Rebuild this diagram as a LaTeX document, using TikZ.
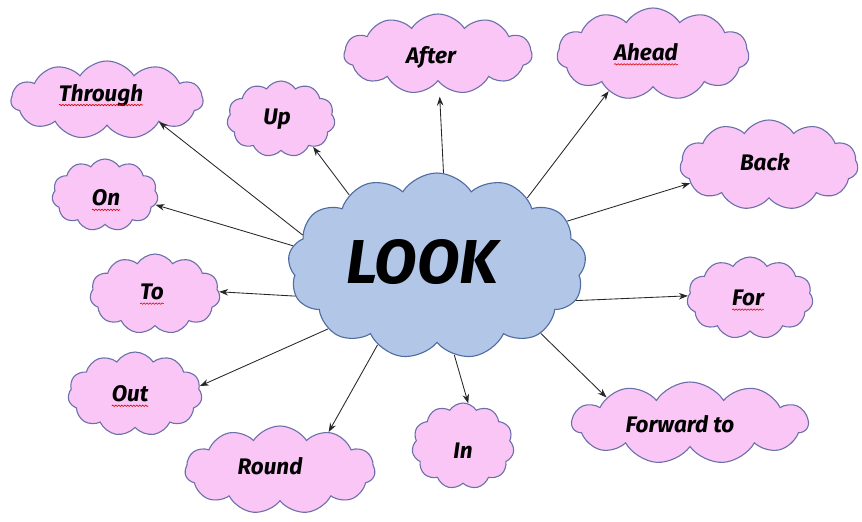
\documentclass[tikz,border=0pt]{standalone}
\usepackage{fontspec}
\setmainfont{Fira Sans}
\usetikzlibrary{shapes.symbols,arrows.meta,decorations.pathmorphing}
\definecolor{pinkfill}{RGB}{249,198,245}
\definecolor{pinkline}{RGB}{108,112,170}
\definecolor{bluefill}{RGB}{178,198,232}
\definecolor{blueline}{RGB}{78,108,160}
\newcommand{\lblfont}{\bfseries\itshape\fontsize{22.5}{22.5}\selectfont}
\newlength{\towd}
\begin{document}
\begin{tikzpicture}[x=1pt,y=-1pt,
  cl/.style={cloud, cloud puffs=11, cloud puff arc=115, cloud ignores aspect,
    draw=pinkline, fill=pinkfill, line width=1.1pt, inner sep=0pt},
  bigcl/.style={cl, cloud puffs=13, draw=blueline, fill=bluefill},
  lbl/.style={inner sep=0pt, outer sep=0pt, font=\lblfont, text=black},
  arr/.style={-{Stealth[length=9pt,width=6.5pt]}, line width=0.85pt, black!85},
  squig/.style={red!85!black, line width=0.6pt, decorate,
    decoration={snake, amplitude=0.7pt, segment length=3pt}}]
\useasboundingbox[fill=white] (0,0) rectangle (862,522);
\settowidth{\towd}{\lblfont to}

% clouds
\node[cl, minimum width=192pt, minimum height=78pt] (through) at (107,100) {};
\node[cl, minimum width=108pt, minimum height=76pt] (up) at (281,119) {};
\node[cl, minimum width=188pt, minimum height=80pt] (after) at (438,54) {};
\node[cl, minimum width=192pt, minimum height=92pt] (ahead) at (653,54) {};
\node[cl, minimum width=178pt, minimum height=90pt] (back) at (769,165) {};
\node[cl, minimum width=106pt, minimum height=72pt] (on) at (105,195) {};
\node[cl, minimum width=130pt, minimum height=80pt] (to) at (155,294) {};
\node[cl, minimum width=134pt, minimum height=84pt] (out) at (135,394) {};
\node[cl, minimum width=190pt, minimum height=88pt] (round) at (280,470) {};
\node[cl, minimum width=102pt, minimum height=86pt] (in) at (463,446) {};
\node[cl, minimum width=236pt, minimum height=82pt] (fwd) at (690,423) {};
\node[cl, minimum width=126pt, minimum height=82pt] (for) at (750,298) {};
\node[bigcl, minimum width=298pt, minimum height=186pt] (look) at (437,266) {};

% labels
\node[lbl] (tthrough) at (101,95) {Through};
\node[lbl] (tup) at (277,119) {Up};
\node[lbl] (tafter) at (431,57) {After};
\node[lbl] (tahead) at (646,52) {Ahead};
\node[lbl] (tback) at (765,162) {Back};
\node[lbl] (ton) at (106,198) {On};
\node[lbl] (tto) at (152,292) {To};
\node[lbl] (tout) at (130,394) {Out};
\node[lbl] (tround) at (270,466) {Round};
\node[lbl] (tin) at (463,451) {In};
\node[lbl] (tfwd) at (680,424) {Forward to};
\node[lbl] (tfor) at (748,298) {For};
\node[lbl, font=\bfseries\itshape\fontsize{62}{62}\selectfont] (tlook) at (422,262) {LOOK};

% spell-check underlines
\foreach \w in {tthrough,tahead,ton,tto,tout,tfor}
  \draw[squig] ([yshift=-4pt]\w.base west) -- ([yshift=-4pt]\w.base east);
\draw[squig] ([xshift=-\towd,yshift=-4pt]tfwd.base east) -- ([yshift=-4pt]tfwd.base east);

% connectors
\draw[arr] (look.167) -- (through.-23);
\draw[arr] (look.141) -- (up.-41);
\draw[arr, shorten >=14pt] (look.86) -- (after.-88);
\draw[arr] (look.37) -- (ahead.-140);
\draw[arr] (look.19) -- (back.-167);
\draw[arr] (look.172) -- (on.-11);
\draw[arr] (look.192) -- (to.2);
\draw[arr] (look.210) -- (out.7);
\draw[arr] (look.233) -- (round.38);
\draw[arr] (look.281) -- (in.83);
\draw[arr] (look.327) -- (fwd.163);
\draw[arr] (look.346) -- (for.178);
\end{tikzpicture}
\end{document}
